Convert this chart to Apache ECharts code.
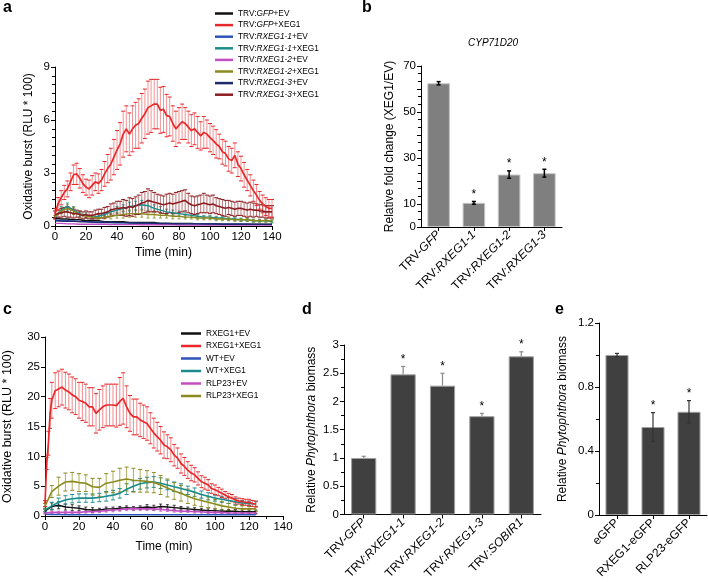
<!DOCTYPE html>
<html><head><meta charset="utf-8">
<script src="https://cdn.jsdelivr.net/npm/echarts@6/dist/echarts.min.js"></script>
<style>html,body{margin:0;padding:0;background:#fff}#c{width:708px;height:582px}</style>
</head><body><div id="c"></div>
<script>
// ---------- Panel a ----------
const timeA2 = [0,2,4,6,8,10,12,14,16,18,20,22,24,26,28,30,32,34,36,38,40,42,44,46,48,50,52,54,56,58,60,62,64,66,68,70,72,74,76,78,80,82,84,86,88,90,92,94,96,98,100,102,104,106,108,110,112,114,116,118,120,122,124,126,128,130,132,134,136,138,140];
const timeA4 = [0,4,8,12,16,20,24,28,32,36,40,44,48,52,56,60,64,68,72,76,80,84,88,92,96,100,104,108,112,116,120,124,128,132,136,140];
const gfpXegA = [0.7,1.26,1.6,1.9,2.1,2.5,2.9,2.95,2.7,2.4,2.2,2.1,2.3,2.5,2.4,2.6,2.95,3.25,3.5,3.9,4.3,4.65,5.2,5.5,5.2,5.5,5.7,5.8,6.1,6.35,6.7,6.8,6.9,6.9,6.55,6.6,6.25,6.2,5.8,5.5,5.7,5.9,5.8,5.6,5.4,5.5,5.3,5.1,5.3,5.2,5.0,4.85,4.65,4.5,4.2,4.1,3.8,3.7,4.0,3.5,3.25,2.9,2.6,2.3,2.0,1.75,1.45,1.25,1.1,1.0,1.0];
const gfpXegAErr = [0.3,0.35,0.4,0.4,0.45,0.5,0.55,0.6,0.55,0.5,0.45,0.5,0.55,0.5,0.55,0.6,0.7,0.8,0.9,1.0,1.1,1.2,1.3,1.3,1.2,1.3,1.3,1.4,1.4,1.4,1.5,1.5,1.4,1.4,1.3,1.3,1.2,1.1,1.0,1.0,1.0,1.0,0.9,0.9,0.9,0.9,0.9,0.8,0.9,0.8,0.8,0.8,0.8,0.7,0.7,0.7,0.7,0.7,0.7,0.7,0.7,0.7,0.6,0.6,0.6,0.6,0.5,0.5,0.5,0.5,0.5];
const rx3XegA = [0.65,0.7,0.75,0.8,0.8,0.75,0.7,0.7,0.65,0.6,0.65,0.6,0.6,0.65,0.7,0.7,0.75,0.8,0.9,0.95,1.0,1.0,1.05,1.0,1.1,1.05,1.15,1.2,1.3,1.35,1.45,1.4,1.35,1.3,1.25,1.2,1.25,1.3,1.25,1.3,1.35,1.4,1.45,1.3,1.2,1.15,1.2,1.25,1.3,1.25,1.2,1.25,1.15,1.1,1.05,1.0,1.05,1.0,0.95,1.0,1.0,0.95,0.9,0.95,0.9,0.9,0.85,0.85,0.8,0.8,0.8];
const rx3XegAErr = [0.2,0.2,0.25,0.25,0.3,0.25,0.25,0.2,0.2,0.2,0.2,0.2,0.2,0.25,0.25,0.25,0.3,0.3,0.35,0.35,0.4,0.4,0.45,0.45,0.5,0.5,0.5,0.55,0.6,0.6,0.65,0.6,0.55,0.5,0.5,0.5,0.55,0.55,0.55,0.6,0.6,0.6,0.6,0.55,0.5,0.5,0.5,0.5,0.55,0.5,0.5,0.5,0.45,0.45,0.45,0.45,0.4,0.4,0.4,0.4,0.4,0.4,0.4,0.4,0.4,0.35,0.35,0.35,0.35,0.35,0.35];
const rx1XegA = [0.5,0.9,1.1,0.9,0.7,0.6,0.5,0.55,0.65,0.8,0.9,1.0,1.1,1.15,1.2,1.15,1.0,0.9,0.8,0.75,0.7,0.65,0.6,0.55,0.5,0.5,0.45,0.45,0.4,0.4,0.35,0.35,0.3,0.3,0.3,0.25];
const rx1XegAErr = [0.1,0.2,0.2,0.2,0.15,0.15,0.1,0.1,0.1,0.15,0.2,0.2,0.25,0.25,0.25,0.25,0.2,0.2,0.15,0.15,0.15,0.15,0.1,0.1,0.1,0.1,0.1,0.1,0.1,0.1,0.1,0.1,0.08,0.08,0.08,0.08];
const rx2XegA = [0.5,0.85,1.0,0.85,0.65,0.55,0.5,0.45,0.5,0.55,0.6,0.65,0.7,0.7,0.7,0.65,0.65,0.6,0.6,0.55,0.55,0.5,0.5,0.45,0.45,0.45,0.4,0.4,0.4,0.35,0.35,0.35,0.3,0.3,0.3,0.3];
const rx2XegAErr = [0.1,0.15,0.2,0.2,0.15,0.1,0.1,0.1,0.1,0.15,0.15,0.2,0.2,0.2,0.2,0.2,0.2,0.15,0.15,0.15,0.15,0.1,0.1,0.1,0.1,0.1,0.1,0.1,0.1,0.08,0.08,0.08,0.08,0.08,0.08,0.08];
const gfpEvA = [0.45,0.4,0.4,0.35,0.35,0.3,0.3,0.3,0.25,0.25,0.25,0.25,0.2,0.2,0.2,0.2,0.2,0.15,0.15,0.15,0.15,0.15,0.15,0.12,0.12,0.12,0.12,0.1,0.1,0.1,0.1,0.1,0.1,0.1,0.1,0.1];
const rx1EvA = [0.35,0.3,0.3,0.28,0.25,0.25,0.22,0.2,0.2,0.2,0.18,0.18,0.17,0.16,0.15,0.15,0.15,0.14,0.14,0.13,0.13,0.12,0.12,0.12,0.11,0.11,0.1,0.1,0.1,0.1,0.1,0.09,0.09,0.09,0.08,0.08];
const rx2EvA = [0.15,0.15,0.12,0.12,0.1,0.1,0.1,0.1,0.1,0.08,0.08,0.08,0.08,0.08,0.07,0.07,0.07,0.07,0.07,0.07,0.06,0.06,0.06,0.06,0.06,0.06,0.06,0.05,0.05,0.05,0.05,0.05,0.05,0.05,0.05,0.05];
const rx3EvA = [0.3,0.28,0.27,0.26,0.25,0.24,0.23,0.22,0.21,0.2,0.2,0.19,0.18,0.17,0.16,0.16,0.15,0.14,0.14,0.13,0.13,0.12,0.12,0.12,0.11,0.11,0.11,0.1,0.1,0.1,0.1,0.1,0.09,0.09,0.09,0.09];

// ---------- Panel b ----------
const catB = ['TRV-GFP','TRV:RXEG1-1','TRV:RXEG1-2','TRV:RXEG1-3'];
const valB = [62.5,10.5,22.8,23.4];
const errB = [0.7,0.6,1.6,1.7];
const sigB = ['','*','*','*'];

// ---------- Panel c ----------
const timeC2 = [0,1,2,3,4,6,8,10,12,14,16,18,20,22,24,26,28,30,32,34,36,38,40,42,44,46,48,50,52,54,56,58,60,62,64,66,68,70,72,74,76,78,80,82,84,86,88,90,92,94,96,98,100,102,104,106,108,110,112,114,116,118,120,122,124];
const timeC4 = [0,4,8,12,16,20,24,28,32,36,40,44,48,52,56,60,64,68,72,76,80,84,88,92,96,100,104,108,112,116,120,124];
const rxXegC = [2.1,8.8,12.2,17.2,19.4,21.0,21.3,21.6,21.1,20.8,20.3,20.0,19.4,19.2,18.9,18.3,18.3,17.2,17.8,18.3,18.6,18.6,18.6,18.5,19.2,19.7,18.3,17.2,16.6,16.6,16.1,15.8,15.5,14.7,13.9,13.3,12.7,11.9,11.6,11.1,10.2,9.7,8.8,8.3,7.7,7.2,6.9,6.3,5.75,5.5,5.2,4.6,4.4,4.1,3.8,3.5,3.2,3.0,2.7,2.5,2.4,2.3,2.3,2.1,2.0];
const rxXegCErr = [0.5,1.0,2.0,2.5,3.0,3.0,3.0,3.0,3.0,3.0,3.0,3.0,3.0,3.2,3.2,3.2,3.2,3.3,3.4,3.5,3.5,3.5,3.5,3.6,4.0,4.3,3.5,3.0,3.0,3.0,2.8,2.8,2.8,2.6,2.5,2.4,2.3,2.2,2.0,2.0,1.8,1.7,1.6,1.5,1.4,1.3,1.2,1.1,1.0,1.0,0.9,0.8,0.8,0.7,0.7,0.6,0.6,0.6,0.5,0.5,0.5,0.5,0.5,0.5,0.5];
const rlpXegC = [1.6,4.1,5.0,5.7,5.8,5.6,5.5,4.9,4.8,5.5,5.7,6.0,6.2,6.0,5.9,5.8,5.6,5.2,4.7,4.2,3.8,3.3,2.9,2.6,2.3,2.0,1.7,1.5,1.3,1.2,1.2,1.2];
const rlpXegCErr = [0.5,1.0,1.5,1.5,1.5,1.5,1.4,1.4,1.5,1.6,1.8,2.0,2.0,2.0,1.9,1.8,1.7,1.6,1.5,1.4,1.3,1.2,1.1,1.0,0.9,0.8,0.7,0.6,0.5,0.5,0.4,0.4];
const wtXegC = [1.0,1.7,2.3,2.7,2.9,3.0,3.0,3.0,3.1,3.3,3.5,3.8,4.5,5.0,5.4,5.6,5.7,5.5,5.2,4.9,4.6,4.3,4.0,3.6,3.3,3.0,2.8,2.6,2.4,2.2,2.1,2.0];
const wtXegCErr = [0.3,0.6,0.7,0.7,0.7,0.7,0.7,0.7,0.7,0.8,0.8,0.8,0.9,0.9,0.9,0.9,0.9,0.9,0.8,0.8,0.8,0.7,0.7,0.6,0.6,0.5,0.5,0.5,0.5,0.4,0.4,0.4];
const rxEvC = [0.8,1.6,1.8,1.5,1.4,1.3,1.1,1.0,1.0,1.2,1.2,1.3,1.4,1.3,1.4,1.5,1.4,1.6,1.5,1.4,1.3,1.2,1.1,1.0,0.9,0.9,0.8,0.8,0.8,0.7,0.7,0.7];
const rxEvCErr = [0.3,0.6,0.6,0.5,0.5,0.4,0.4,0.4,0.3,0.3,0.3,0.3,0.3,0.3,0.3,0.4,0.4,0.4,0.4,0.4,0.3,0.3,0.3,0.3,0.3,0.3,0.3,0.3,0.3,0.3,0.3,0.3];
const rlpEvC = [0.5,0.6,0.6,0.6,0.6,0.6,0.7,0.7,0.8,0.9,1.0,1.1,1.2,1.2,1.2,1.2,1.2,1.1,1.0,0.9,0.8,0.8,0.7,0.7,0.6,0.6,0.6,0.5,0.5,0.5,0.5,0.5];
const rlpEvCErr = [0.2,0.2,0.2,0.2,0.2,0.2,0.2,0.2,0.25,0.25,0.3,0.3,0.3,0.3,0.3,0.3,0.3,0.3,0.25,0.25,0.2,0.2,0.2,0.2,0.2,0.2,0.2,0.2,0.2,0.2,0.2,0.2];
const wtEvC = [0.3,0.25,0.25,0.2,0.2,0.2,0.2,0.2,0.2,0.2,0.2,0.2,0.2,0.2,0.2,0.2,0.2,0.2,0.2,0.2,0.2,0.2,0.2,0.2,0.2,0.2,0.2,0.2,0.2,0.2,0.2,0.2];

// ---------- Panel d ----------
const catD = ['TRV-GFP','TRV:RXEG1-1','TRV:RXEG1-2','TRV:RXEG1-3','TRV:SOBIR1'];
const valD = [1.0,2.48,2.28,1.74,2.8];
const errD = [0.03,0.14,0.22,0.05,0.08];
const sigD = ['','*','*','*','*'];

// ---------- Panel e ----------
const catE = ['eGFP','RXEG1-eGFP','RLP23-eGFP'];
const valE = [1.0,0.55,0.645];
const errE = [0.01,0.09,0.07];
const sigE = ['','*','*'];

// ================= build =================
const FONT = 'Liberation Sans, Arial, Helvetica, sans-serif';
const chart = echarts.init(document.getElementById('c'), null, {renderer:'canvas'});
const zip2 = (t,v)=>t.map((x,i)=>[x,v[i]]);
const zip3 = (t,v,e)=>t.map((x,i)=>[x,v[i],e[i]]);

function errSeries(xi, yi, data, color, capColor, capW, lw, both, sig){
  return {type:'custom', xAxisIndex:xi, yAxisIndex:yi, data, z:3, silent:true, clip:false,
    renderItem:function(params, api){
      const x=api.value(0), y=api.value(1), e=api.value(2);
      const p=api.coord([x,y]), t=api.coord([x,y+e]), b=both?api.coord([x,y-e]):p;
      const ch=[
        {type:'line', shape:{x1:t[0],y1:t[1],x2:b[0],y2:b[1]}, style:{stroke:color,lineWidth:lw}},
        {type:'line', shape:{x1:t[0]-capW,y1:t[1],x2:t[0]+capW,y2:t[1]}, style:{stroke:capColor,lineWidth:lw}}];
      if(both) ch.push({type:'line', shape:{x1:b[0]-capW,y1:b[1],x2:b[0]+capW,y2:b[1]}, style:{stroke:capColor,lineWidth:lw}});
      if(sig && sig[params.dataIndex]) ch.push({type:'text', style:{text:sig[params.dataIndex], x:t[0], y:t[1]-13, align:'center', verticalAlign:'top', fontSize:12, fontFamily:FONT, fill:'#000'}});
      return {type:'group', children:ch};
    }};
}
function lineSeries(name, xi, yi, data, color, z, w){
  return {type:'line', name, xAxisIndex:xi, yAxisIndex:yi, data, symbol:'none', z:z||4,
    lineStyle:{color, width:w||1.4}, itemStyle:{color}, silent:true};
}
const axisBase = {
  axisLine:{show:true, onZero:false, lineStyle:{color:'#000', width:1}},
  axisTick:{show:true, length:4, lineStyle:{color:'#000'}},
  splitLine:{show:false},
  axisLabel:{color:'#000', fontSize:11.5, fontFamily:FONT, margin:5}
};
function valAxis(gi, min, max, interval, extra){
  return Object.assign({type:'value', gridIndex:gi, min, max, interval}, JSON.parse(JSON.stringify(axisBase)), extra||{});
}
const italicRich = {n:{fontFamily:FONT, fontSize:12, color:'#000'}, i:{fontFamily:FONT, fontSize:12, fontStyle:'italic', color:'#000'}};
function catLabel(v){
  let m = v.match(/^(TRV[-:])(.+)$/);
  return m ? '{n|'+m[1]+'}{i|'+m[2]+'}' : '{n|'+v+'}';
}
function catAxis(gi, data){
  return Object.assign({type:'category', gridIndex:gi, data}, JSON.parse(JSON.stringify(axisBase)),
    {axisTick:{show:true, alignWithLabel:true, length:4, lineStyle:{color:'#000'}},
     axisLabel:{rotate:45, margin:6, formatter:catLabel, rich:italicRich, color:'#000', fontSize:12, interval:0}});
}

const C = {black:'#111111', red:'#e8282b', blue:'#2d55b8', teal:'#1b8c8c', magenta:'#c24fc2', olive:'#8c8a1e', navy:'#1f2a6e', darkred:'#8c1c1f'};

const grids = [
  {left:55, top:67, width:217, height:159},   // a
  {left:421, top:66, width:141, height:161},  // b
  {left:40, top:337, width:243, height:179},  // c
  {left:344, top:345, width:197, height:171}, // d
  {left:599, top:323, width:108, height:192}  // e
];
const nameStyle = {fontSize:12, fontFamily:FONT, color:'#000'};
const minor = n => ({show:true, splitNumber:n, length:3, lineStyle:{color:'#000'}});

const xAxes = [
  valAxis(0, 0, 140, 20, {minorTick:minor(2), name:'Time (min)', nameLocation:'middle', nameGap:21, nameTextStyle:nameStyle}),
  catAxis(1, catB),
  valAxis(2, 0, 140, 20, {minorTick:minor(2), name:'Time (min)', nameLocation:'middle', nameGap:25, nameTextStyle:nameStyle}),
  catAxis(3, catD),
  catAxis(4, catE)
];
const bioName = '{n|Relative }{i|Phytophthora}{n| biomass}';
const bioRich = {n:{fontFamily:FONT, fontSize:12, color:'#000'}, i:{fontFamily:FONT, fontSize:12, fontStyle:'italic', color:'#000'}};
const yAxes = [
  valAxis(0, 0, 9, 3, {minorTick:minor(6), name:'Oxidative burst (RLU * 100)', nameLocation:'middle', nameGap:20, nameTextStyle:nameStyle}),
  valAxis(1, 0, 70, 10, {minorTick:minor(3), name:'Relative fold change (XEG1/EV)', nameLocation:'middle', nameGap:25, nameTextStyle:nameStyle}),
  valAxis(2, 0, 30, 5, {name:'Oxidative burst (RLU * 100)', nameLocation:'middle', nameGap:31, nameTextStyle:{fontSize:12.5, fontFamily:FONT, color:'#000'}}),
  valAxis(3, 0, 3, 0.5, {minorTick:minor(2), name:bioName, nameLocation:'middle', nameGap:26, nameTextStyle:{rich:bioRich}}),
  valAxis(4, 0, 1.2, 0.4, {minorTick:minor(2), name:bioName, nameLocation:'middle', nameGap:30, nameTextStyle:{rich:bioRich}})
];
yAxes[1].axisLabel.formatter = v => (v===20||v===40||v===60) ? '' : String(v);

const series = [
  // panel a
  errSeries(0,0, zip3(timeA4, rx1XegA, rx1XegAErr), C.teal, C.teal, 1.5, 0.8, true),
  errSeries(0,0, zip3(timeA4, rx2XegA, rx2XegAErr), C.olive, C.olive, 1.5, 0.8, true),
  lineSeries('TRV:GFP+EV',0,0, zip2(timeA4, gfpEvA), C.black),
  lineSeries('TRV:RXEG1-1+EV',0,0, zip2(timeA4, rx1EvA), C.blue),
  lineSeries('TRV:RXEG1-1+XEG1',0,0, zip2(timeA4, rx1XegA), C.teal),
  lineSeries('TRV:RXEG1-2+EV',0,0, zip2(timeA4, rx2EvA), C.magenta),
  lineSeries('TRV:RXEG1-2+XEG1',0,0, zip2(timeA4, rx2XegA), C.olive),
  lineSeries('TRV:RXEG1-3+EV',0,0, zip2(timeA4, rx3EvA), C.navy),
  errSeries(0,0, zip3(timeA2, rx3XegA, rx3XegAErr), 'rgba(140,28,31,0.6)', C.darkred, 2, 1, true),
  lineSeries('TRV:RXEG1-3+XEG1',0,0, zip2(timeA2, rx3XegA), C.darkred, 5, 1.6),
  errSeries(0,0, zip3(timeA2, gfpXegA, gfpXegAErr), 'rgba(232,40,43,0.5)', C.red, 2, 1, true),
  lineSeries('TRV:GFP+XEG1',0,0, zip2(timeA2, gfpXegA), C.red, 6, 1.7),
  // panel b
  {type:'bar', xAxisIndex:1, yAxisIndex:1, data:valB, barCategoryGap:'36%', silent:true,
   itemStyle:{color:'#7f7f7f', borderColor:'#c4c4c4', borderWidth:1}},
  errSeries(1,1, catB.map((c,i)=>[i,valB[i],errB[i]]), '#000', '#000', 2, 1.5, true, sigB),
  // panel c
  errSeries(2,2, zip3(timeC4, rxEvC, rxEvCErr), C.black, C.black, 1.5, 0.8, true),
  errSeries(2,2, zip3(timeC4, rlpEvC, rlpEvCErr), C.magenta, C.magenta, 1.5, 0.8, true),
  errSeries(2,2, zip3(timeC4, wtXegC, wtXegCErr), 'rgba(27,140,140,0.7)', C.teal, 2, 1, true),
  errSeries(2,2, zip3(timeC4, rlpXegC, rlpXegCErr), 'rgba(140,138,30,0.7)', C.olive, 2, 1, true),
  lineSeries('RXEG1+EV',2,2, zip2(timeC4, rxEvC), C.black),
  lineSeries('WT+EV',2,2, zip2(timeC4, wtEvC), C.blue),
  lineSeries('WT+XEG1',2,2, zip2(timeC4, wtXegC), C.teal, 4, 1.6),
  lineSeries('RLP23+EV',2,2, zip2(timeC4, rlpEvC), C.magenta, 4, 1.6),
  lineSeries('RLP23+XEG1',2,2, zip2(timeC4, rlpXegC), C.olive, 5, 1.6),
  errSeries(2,2, zip3(timeC2, rxXegC, rxXegCErr), 'rgba(232,40,43,0.55)', C.red, 2, 1, true),
  lineSeries('RXEG1+XEG1',2,2, zip2(timeC2, rxXegC), C.red, 6, 1.7),
  // panel d
  {type:'bar', xAxisIndex:3, yAxisIndex:3, data:valD, barCategoryGap:'36%', silent:true,
   itemStyle:{color:'#404040', borderColor:'#a0a0a0', borderWidth:1}},
  errSeries(3,3, catD.map((c,i)=>[i,valD[i],errD[i]]), '#8a8a8a', '#8a8a8a', 2, 1.2, false, sigD),
  // panel e
  {type:'bar', xAxisIndex:4, yAxisIndex:4, data:valE, barCategoryGap:'36%', silent:true,
   itemStyle:{color:'#404040', borderColor:'#a0a0a0', borderWidth:1}},
  errSeries(4,4, catE.map((c,i)=>[i,valE[i],errE[i]]), '#333', '#333', 2, 1.2, true, sigE)
];

const legendA = ['TRV:GFP+EV','TRV:GFP+XEG1','TRV:RXEG1-1+EV','TRV:RXEG1-1+XEG1','TRV:RXEG1-2+EV','TRV:RXEG1-2+XEG1','TRV:RXEG1-3+EV','TRV:RXEG1-3+XEG1'];
const legendC = ['RXEG1+EV','RXEG1+XEG1','WT+EV','WT+XEG1','RLP23+EV','RLP23+XEG1'];

const option = {
  animation:false,
  backgroundColor:'#fff',
  textStyle:{fontFamily:FONT},
  grid:grids,
  xAxis:xAxes,
  yAxis:yAxes,
  legend:[
    {data:legendA, orient:'vertical', left:210, top:4, itemWidth:18, itemHeight:2.5, itemGap:2.6, icon:'rect', selectedMode:false,
     formatter:function(name){const m=name.match(/^TRV:(.+?)(\+.+)$/); return '{n|TRV:}{i|'+m[1]+'}{n|'+m[2]+'}';},
     textStyle:{fontSize:8.3, lineHeight:9, color:'#000',
       rich:{n:{fontSize:8.3, lineHeight:9, fontFamily:FONT, color:'#000'}, i:{fontSize:8.3, lineHeight:9, fontFamily:FONT, fontStyle:'italic', color:'#000'}}}},
    {data:legendC, orient:'vertical', left:176, top:324, itemWidth:20, itemHeight:2.5, itemGap:3.5, icon:'rect', selectedMode:false,
     textStyle:{fontSize:8.3, lineHeight:9, color:'#000', fontFamily:FONT}}
  ],
  series:series,
  graphic:[
    {type:'text', left:3, top:0, style:{text:'a', font:'bold 16px '+FONT, fill:'#000'}},
    {type:'text', left:362, top:0, style:{text:'b', font:'bold 16px '+FONT, fill:'#000'}},
    {type:'text', left:3, top:302, style:{text:'c', font:'bold 16px '+FONT, fill:'#000'}},
    {type:'text', left:302, top:302, style:{text:'d', font:'bold 16px '+FONT, fill:'#000'}},
    {type:'text', left:555, top:302, style:{text:'e', font:'bold 16px '+FONT, fill:'#000'}},
    {type:'text', x:493, y:43, style:{text:'CYP71D20', font:'italic 10px '+FONT, fill:'#000', align:'center', verticalAlign:'middle'}}
  ]
};
chart.setOption(option);
</script></body></html>
